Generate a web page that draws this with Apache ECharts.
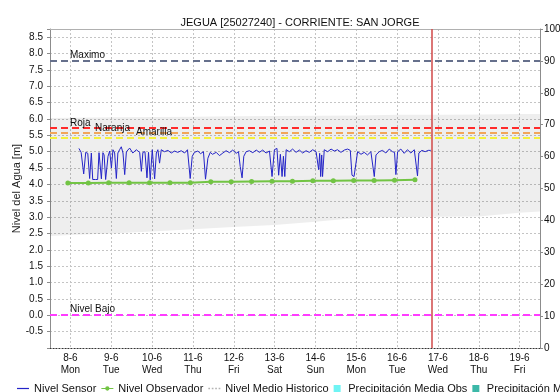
<!DOCTYPE html>
<html>
<head>
<meta charset="utf-8">
<script src="https://cdn.jsdelivr.net/npm/echarts@6/dist/echarts.min.js"></script>
<style>
html,body{margin:0;padding:0;background:#fff;}
#chart{width:560px;height:392px;}
</style>
</head>
<body>
<div id="chart"></div>
<script>
// Time axis is in hours counted from 8-6 00:00
const dayTicks = [0, 24, 48, 72, 96, 120, 144, 168, 192, 216, 240, 264];
const dayLabels = ['8-6', '9-6', '10-6', '11-6', '12-6', '13-6', '14-6', '15-6', '16-6', '17-6', '18-6', '19-6'];
const weekDays = ['Mon', 'Tue', 'Wed', 'Thu', 'Fri', 'Sat', 'Sun', 'Mon', 'Tue', 'Wed', 'Thu', 'Fri'];

// Sensor readings (hours, metres)
const sensorHours = [
  5.0, 6.3, 7.8, 9.0, 10.2, 11.3, 12.3, 13.1, 14.8, 16.0,
  16.8, 18.2, 19.1, 19.8, 20.7, 22.1, 23.1, 24.1, 25.0, 26.0,
  27.0, 27.9, 28.9, 29.9, 30.9, 31.9, 32.9, 33.8, 34.8, 36.7,
  38.7, 40.7, 41.7, 42.6, 43.8, 45.0, 45.9, 46.9, 48.1, 49.5,
  50.5, 51.4, 52.4, 53.4, 55.3, 57.3, 59.3, 61.2, 63.1, 65.1,
  67.1, 68.8, 70.4, 71.6, 72.9, 74.9, 76.5, 78.2, 79.4, 80.8,
  82.2, 83.5, 85.7, 87.6, 89.6, 91.5, 93.5, 95.4, 97.4, 98.8,
  99.8, 100.9, 101.9, 103.3, 105.2, 107.2, 109.2, 111.1, 113.0, 115.0,
  117.0, 118.5, 119.9, 121.4, 122.4, 123.4, 124.4, 125.2, 126.0, 126.8,
  128.7, 130.6, 132.6, 134.6, 136.5, 138.5, 140.4, 142.4, 144.4, 145.1,
  145.9, 146.5, 147.1, 147.7, 148.2, 149.2, 151.2, 153.2, 155.1, 157.0,
  159.0, 161.0, 162.9, 164.5, 165.5, 166.7, 167.8, 168.8, 170.8, 172.7,
  174.6, 176.6, 177.7, 178.6, 179.6, 181.5, 183.4, 185.4, 187.4, 189.3,
  190.5, 191.3, 192.3, 194.2, 196.2, 198.1, 200.1, 202.1, 203.2, 204.0,
  204.8, 206.6, 208.5, 210.3, 211.8
];
const sensorLevel = [
  5.10, 4.98, 4.32, 4.98, 4.95, 4.18, 4.96, 4.15, 4.15, 4.15,
  4.97, 4.17, 4.97, 4.90, 4.15, 4.86, 5.02, 4.50, 5.06, 4.96,
  4.18, 4.96, 5.06, 5.15, 4.96, 4.30, 5.00, 5.06, 5.11, 4.96,
  5.06, 4.98, 4.40, 4.98, 5.00, 4.20, 4.98, 4.14, 5.06, 4.17,
  4.96, 5.06, 4.65, 5.06, 5.00, 5.04, 4.96, 5.02, 4.98, 5.03,
  4.96, 5.06, 4.18, 4.86, 4.98, 5.02, 4.94, 5.00, 4.16, 4.80,
  4.98, 4.92, 4.98, 4.88, 4.96, 5.03, 4.97, 5.05, 4.95, 5.00,
  4.55, 4.20, 4.86, 5.00, 5.03, 4.97, 5.05, 4.98, 5.05, 4.96,
  5.02, 4.24, 5.06, 5.10, 4.28, 4.92, 4.24, 4.86, 4.24, 5.06,
  5.00, 5.08, 4.98, 5.05, 4.96, 5.03, 4.98, 5.06, 5.00, 4.98,
  4.45, 4.95, 4.24, 4.90, 4.24, 5.06, 5.00, 5.08, 5.02, 5.06,
  4.98, 5.05, 5.08, 5.04, 4.28, 4.24, 4.24, 5.00, 4.92, 4.98,
  4.90, 5.00, 4.95, 4.24, 4.90, 5.00, 5.04, 4.96, 5.08, 5.00,
  4.98, 4.30, 5.00, 5.08, 4.95, 5.06, 4.96, 5.06, 5.00, 4.26,
  4.96, 5.04, 5.00, 5.04, 5.04
];

// Observer readings
const obsHours = [-1.5, 10.5, 22.5, 34.5, 46.5, 58.5, 70.5, 82.5, 94.5, 106.5, 118.5, 130.5, 142.5, 154.5, 166.5, 178.5, 190.5, 202.5];
const obsLevel = [4.04, 4.04, 4.05, 4.05, 4.05, 4.05, 4.05, 4.08, 4.08, 4.09, 4.10, 4.10, 4.11, 4.11, 4.12, 4.12, 4.13, 4.14];

// Historical mean level envelope
const histHours = [-12, 0, 24, 48, 72, 96, 120, 144, 168, 192, 216, 240, 264, 276];
const histLow = [2.42, 2.45, 2.50, 2.56, 2.63, 2.70, 2.76, 2.86, 2.97, 3.00, 3.01, 3.02, 3.13, 3.17];
const histHigh = [6.03, 6.04, 6.05, 6.06, 6.07, 6.08, 6.09, 6.10, 6.11, 6.13, 6.13, 6.14, 6.15, 6.15];

// Alert levels
const thresholdNames = ['Maximo', 'Roja', 'Naranja', 'Amarilla', 'Nivel Bajo'];
const thresholdValues = [7.78, 5.72, 5.57, 5.44, 0.03];
const thresholdColors = ['#66708c', '#ff2a2a', '#f2a65a', '#f4f03c', '#ff3cff'];
const thresholdLabelShift = [20, 20, 45, 86, 20];

const nowHour = 212.4;

const FONT = '"Liberation Sans", Arial, sans-serif';

const sensorData = sensorHours.map((h, i) => [h, sensorLevel[i]]);
const obsData = obsHours.map((h, i) => [h, obsLevel[i]]);
const histData = histHours.map((h, i) => [h, histLow[i], histHigh[i]]);

const thresholdMarks = thresholdNames.map((n, i) => ({
  name: n,
  yAxis: thresholdValues[i],
  lineStyle: { color: thresholdColors[i], type: [7, 4], width: 2 },
  label: {
    show: true,
    position: 'insideStartTop',
    distance: [thresholdLabelShift[i], 0],
    formatter: '{b}',
    color: '#111',
    fontSize: 10,
    fontFamily: FONT
  }
}));

// Legend glyphs
const ICON_LINE = 'path://M0,0h14v1.4h-14z';
const ICON_LINE_DOT = 'path://M0,3.3h14v1.4h-14zM7,1.5a2.5,2.5 0 1,1 -0.01,0z';
const ICON_DOTS = 'path://M0,0h2v2h-2zM4,0h2v2h-2zM8,0h2v2h-2zM12,0h2v2h-2z';
const ICON_SQUARE = 'path://M0,0h10v10h-10z';

// Historical envelope drawn as one filled polygon through the axis scales
function renderEnvelope(params, api) {
  if (params.dataIndex !== 0) return null;
  const upper = [], lower = [];
  for (let i = 0; i < histHours.length; i++) {
    upper.push(api.coord([histHours[i], histHigh[i]]));
    lower.unshift(api.coord([histHours[i], histLow[i]]));
  }
  return {
    type: 'polygon',
    shape: { points: upper.concat(lower) },
    style: { fill: 'rgba(0,0,0,0.065)', stroke: null },
    silent: true
  };
}

const chart = echarts.init(document.getElementById('chart'), null, { renderer: 'canvas' });

chart.setOption({
  animation: false,
  backgroundColor: '#fff',
  title: {
    text: 'JEGUA [25027240] - CORRIENTE: SAN JORGE',
    left: 295,
    top: 12,
    textAlign: 'center',
    textStyle: { fontSize: 11, fontWeight: 'normal', color: '#111', fontFamily: FONT }
  },
  legend: {
    left: 17,
    top: 383,
    padding: 0,
    width: 900,
    itemGap: 5,
    itemWidth: 12,
    itemHeight: 7,
    textStyle: { fontSize: 11, color: '#111', fontFamily: FONT },
    data: [
      { name: 'Nivel Sensor', icon: ICON_LINE },
      { name: 'Nivel Observador', icon: ICON_LINE_DOT },
      { name: 'Nivel Medio Historico', icon: ICON_DOTS },
      { name: 'Precipitación Media Obs', icon: ICON_SQUARE },
      { name: 'Precipitación Media Pronosticada', icon: ICON_SQUARE }
    ]
  },
  grid: { left: 50, right: 20, top: 29, bottom: 44, outerBoundsMode: 'none', containLabel: false },
  xAxis: [
    {
      type: 'value',
      min: -12,
      max: 276,
      axisLine: { show: true, onZero: false, lineStyle: { color: '#333', type: [1, 2], width: 1 } },
      axisTick: { show: false, customValues: dayTicks },
      axisLabel: {
        customValues: dayTicks,
        fontSize: 10,
        lineHeight: 12,
        margin: 4,
        color: '#111',
        fontFamily: FONT,
        formatter: v => {
          const i = dayTicks.indexOf(v);
          return i < 0 ? '' : dayLabels[i] + '\n' + weekDays[i];
        }
      },
      splitLine: { show: true, lineStyle: { color: '#c4c4c4', type: [2, 2], width: 1 } }
    },
    {
      type: 'value',
      position: 'top',
      min: -12,
      max: 276,
      axisLine: { show: true, onZero: false, lineStyle: { color: '#b0b0b0', width: 1 } },
      axisTick: { show: false },
      axisLabel: { show: false },
      splitLine: { show: false }
    }
  ],
  yAxis: [
    {
      type: 'value',
      min: -1,
      max: 8.75,
      interval: 0.5,
      name: 'Nivel del Agua [m]',
      nameLocation: 'middle',
      nameGap: 28,
      nameMoveOverlap: false,
      nameTextStyle: { fontSize: 11, color: '#222', fontFamily: FONT },
      axisLine: { show: true, onZero: false, lineStyle: { color: '#8c8c8c' } },
      axisTick: { show: true, length: 3, lineStyle: { color: '#8c8c8c' } },
      axisLabel: {
        fontSize: 10,
        margin: 7,
        color: '#111',
        fontFamily: FONT,
        formatter: v => (v < -0.75 || v > 8.6) ? '' : v.toFixed(1)
      },
      splitLine: { show: true, lineStyle: { color: '#c4c4c4', type: [2, 2], width: 1 } }
    },
    {
      type: 'value',
      min: 0,
      max: 100,
      interval: 10,
      position: 'right',
      axisLine: { show: true, onZero: false, lineStyle: { color: '#8c8c8c' } },
      axisTick: { show: true, length: 3, lineStyle: { color: '#8c8c8c' } },
      axisLabel: { fontSize: 10, margin: 4, color: '#111', fontFamily: FONT },
      splitLine: { show: false }
    }
  ],
  series: [
    {
      name: 'envelope',
      type: 'custom',
      data: histData,
      encode: { x: 0, y: [1, 2] },
      renderItem: renderEnvelope,
      silent: true,
      z: 1,
      markLine: {
        silent: true,
        symbol: ['none', 'none'],
        data: thresholdMarks
      }
    },
    {
      name: 'Nivel Medio Historico',
      type: 'line',
      data: [],
      symbol: 'none',
      itemStyle: { color: '#b4b4b4' },
      lineStyle: { color: '#b4b4b4', type: [2, 3], width: 2 }
    },
    {
      name: 'Precipitación Media Obs',
      type: 'bar',
      yAxisIndex: 1,
      data: [],
      itemStyle: { color: '#6ff4f4' }
    },
    {
      name: 'Precipitación Media Pronosticada',
      type: 'bar',
      yAxisIndex: 1,
      data: [],
      itemStyle: { color: '#3cb8a8' }
    },
    {
      name: 'Nivel Observador',
      type: 'line',
      data: obsData,
      symbol: 'circle',
      symbolSize: 5,
      showSymbol: true,
      itemStyle: { color: '#72c444' },
      lineStyle: { color: '#72c444', width: 2 },
      z: 4
    },
    {
      name: 'Nivel Sensor',
      type: 'line',
      data: sensorData,
      symbol: 'none',
      itemStyle: { color: '#2424c8' },
      lineStyle: { color: '#2424c8', width: 1 },
      z: 5,
      markLine: {
        silent: true,
        symbol: ['none', 'none'],
        label: { show: false },
        lineStyle: { color: '#d04848', type: 'solid', width: 1.5 },
        data: [{ xAxis: nowHour }]
      }
    }
  ]
});
</script>
</body>
</html>
